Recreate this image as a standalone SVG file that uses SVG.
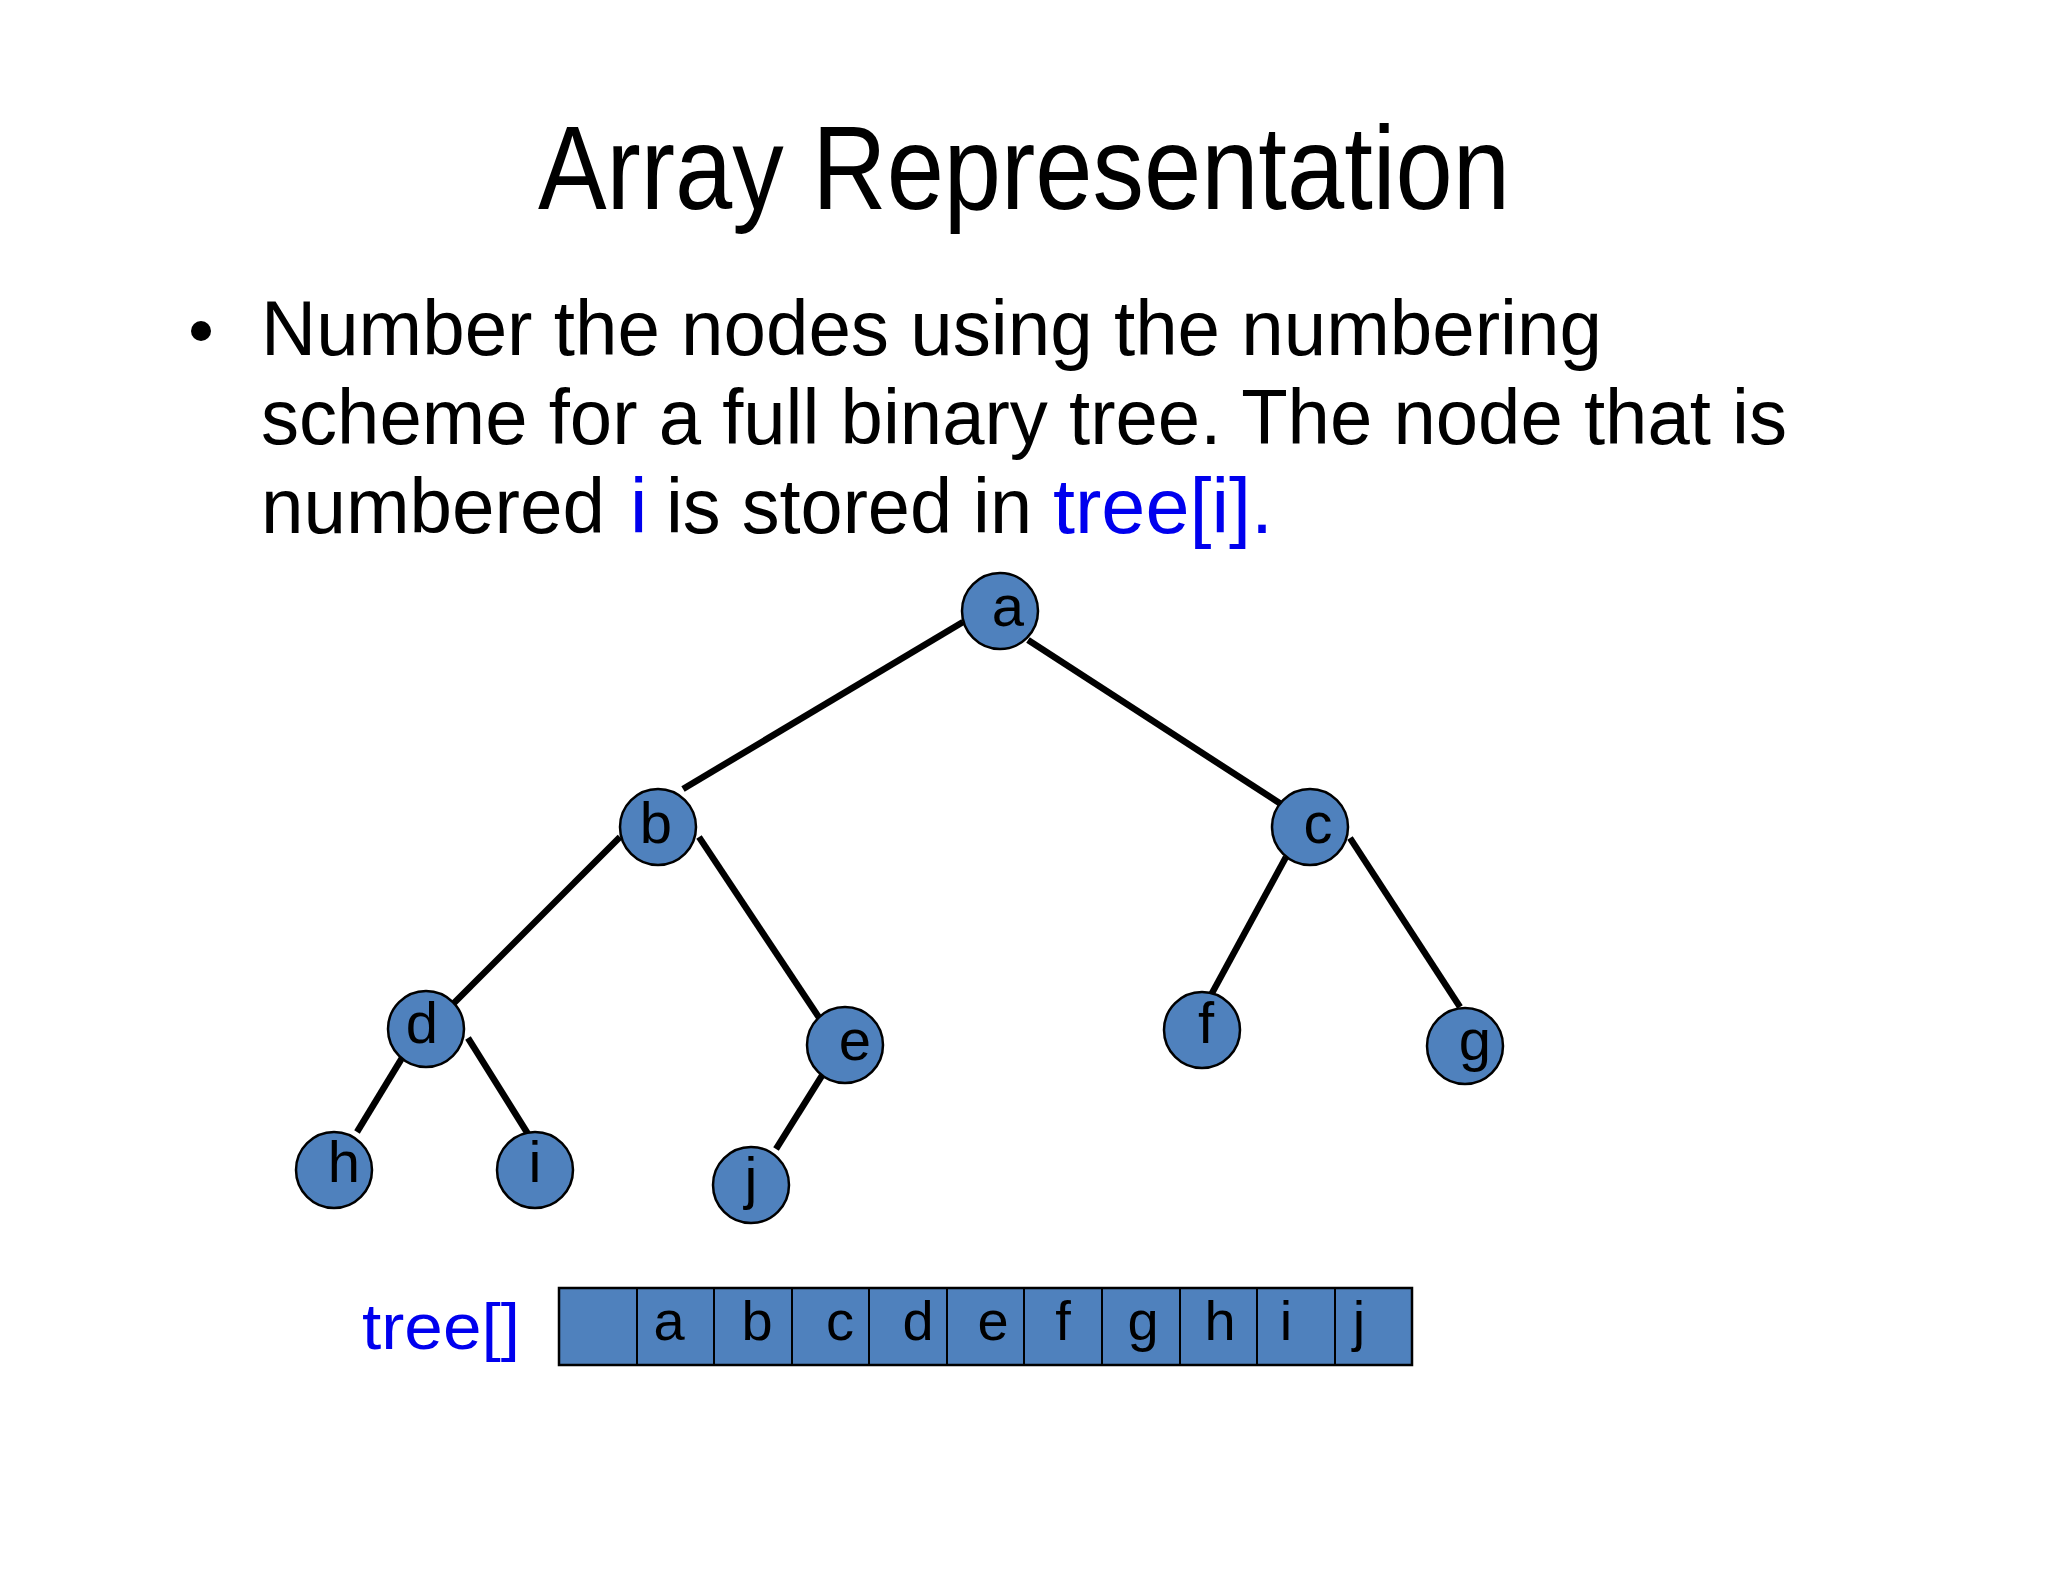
<svg xmlns="http://www.w3.org/2000/svg" width="2048" height="1582" viewBox="0 0 2048 1582">
<style>
.t{font-family:"Liberation Sans",Arial,sans-serif;fill:#000}
.b{fill:#0000ee}
.n circle{fill:#4f81bd;stroke:#000;stroke-width:2.5}
.n text{font-family:"Liberation Sans",Arial,sans-serif;font-size:58px;text-anchor:middle;fill:#000}
.e line{stroke:#000;stroke-width:6.5}
.cell{fill:#4f81bd;stroke:#000;stroke-width:2.5}
.ct{font-family:"Liberation Sans",Arial,sans-serif;font-size:56px;text-anchor:middle}
</style>
<rect width="2048" height="1582" fill="#fff"/>
<text class="t" x="1024" y="209" font-size="118" text-anchor="middle" textLength="972" lengthAdjust="spacingAndGlyphs">Array Representation</text>
<circle cx="201" cy="331" r="10" fill="#000"/>
<text class="t" x="261" y="355" font-size="78" textLength="1341" lengthAdjust="spacingAndGlyphs">Number the nodes using the numbering</text>
<text class="t" x="261" y="444" font-size="78" textLength="1526" lengthAdjust="spacingAndGlyphs">scheme for a full binary tree. The node that is</text>
<text class="t" x="261" y="533" font-size="78" textLength="344" lengthAdjust="spacingAndGlyphs">numbered</text>
<text class="t b" x="630" y="533" font-size="78">i</text>
<text class="t" x="666" y="533" font-size="78" textLength="366" lengthAdjust="spacingAndGlyphs">is stored in</text>
<text class="t b" x="1053" y="533" font-size="78" textLength="220" lengthAdjust="spacingAndGlyphs">tree[i].</text>
<g id="edges" class="e">
<line x1="963" y1="622" x2="683" y2="789"/>
<line x1="1028" y1="640" x2="1284" y2="806"/>
<line x1="620" y1="837" x2="451" y2="1006"/>
<line x1="699" y1="837" x2="820" y2="1019"/>
<line x1="1286" y1="857" x2="1211" y2="995"/>
<line x1="1350" y1="838" x2="1460" y2="1007"/>
<line x1="402" y1="1058" x2="357" y2="1132"/>
<line x1="468" y1="1038" x2="528" y2="1134"/>
<line x1="823" y1="1074" x2="776" y2="1149"/>
</g>
<g id="na" class="n"><circle cx="1000" cy="611" r="38"/><text x="1008" y="626">a</text></g>
<g id="nb" class="n"><circle cx="658" cy="827" r="38"/><text x="656" y="843">b</text></g>
<g id="nc" class="n"><circle cx="1310" cy="827" r="38"/><text x="1318" y="843">c</text></g>
<g id="nd" class="n"><circle cx="426" cy="1029" r="38"/><text x="422" y="1043">d</text></g>
<g id="ne" class="n"><circle cx="845" cy="1045" r="38"/><text x="855" y="1060">e</text></g>
<g id="nf" class="n"><circle cx="1202" cy="1030" r="38"/><text x="1206" y="1043">f</text></g>
<g id="ng" class="n"><circle cx="1465" cy="1046" r="38"/><text x="1475" y="1060">g</text></g>
<g id="nh" class="n"><circle cx="334" cy="1170" r="38"/><text x="344" y="1182">h</text></g>
<g id="ni" class="n"><circle cx="535" cy="1170" r="38"/><text x="535" y="1182">i</text></g>
<g id="nj" class="n"><circle cx="751" cy="1185" r="38"/><text x="751" y="1198">j</text></g>
<g id="array">
<text class="t b" x="362" y="1349" font-size="64" textLength="158" lengthAdjust="spacingAndGlyphs">tree[]</text>
<rect class="cell" x="559" y="1288" width="853" height="77"/>
<g stroke="#000" stroke-width="2">
<line x1="637" y1="1288" x2="637" y2="1365"/><line x1="714" y1="1288" x2="714" y2="1365"/>
<line x1="792" y1="1288" x2="792" y2="1365"/><line x1="869" y1="1288" x2="869" y2="1365"/>
<line x1="947" y1="1288" x2="947" y2="1365"/><line x1="1024" y1="1288" x2="1024" y2="1365"/>
<line x1="1102" y1="1288" x2="1102" y2="1365"/><line x1="1180" y1="1288" x2="1180" y2="1365"/>
<line x1="1257" y1="1288" x2="1257" y2="1365"/><line x1="1335" y1="1288" x2="1335" y2="1365"/>
</g>
<text class="ct" x="669" y="1340">a</text><text class="ct" x="757" y="1340">b</text>
<text class="ct" x="840" y="1340">c</text><text class="ct" x="918" y="1340">d</text>
<text class="ct" x="993" y="1340">e</text><text class="ct" x="1063" y="1340">f</text>
<text class="ct" x="1143" y="1340">g</text><text class="ct" x="1220" y="1340">h</text>
<text class="ct" x="1286" y="1340">i</text><text class="ct" x="1359" y="1340">j</text>
</g>
</svg>
